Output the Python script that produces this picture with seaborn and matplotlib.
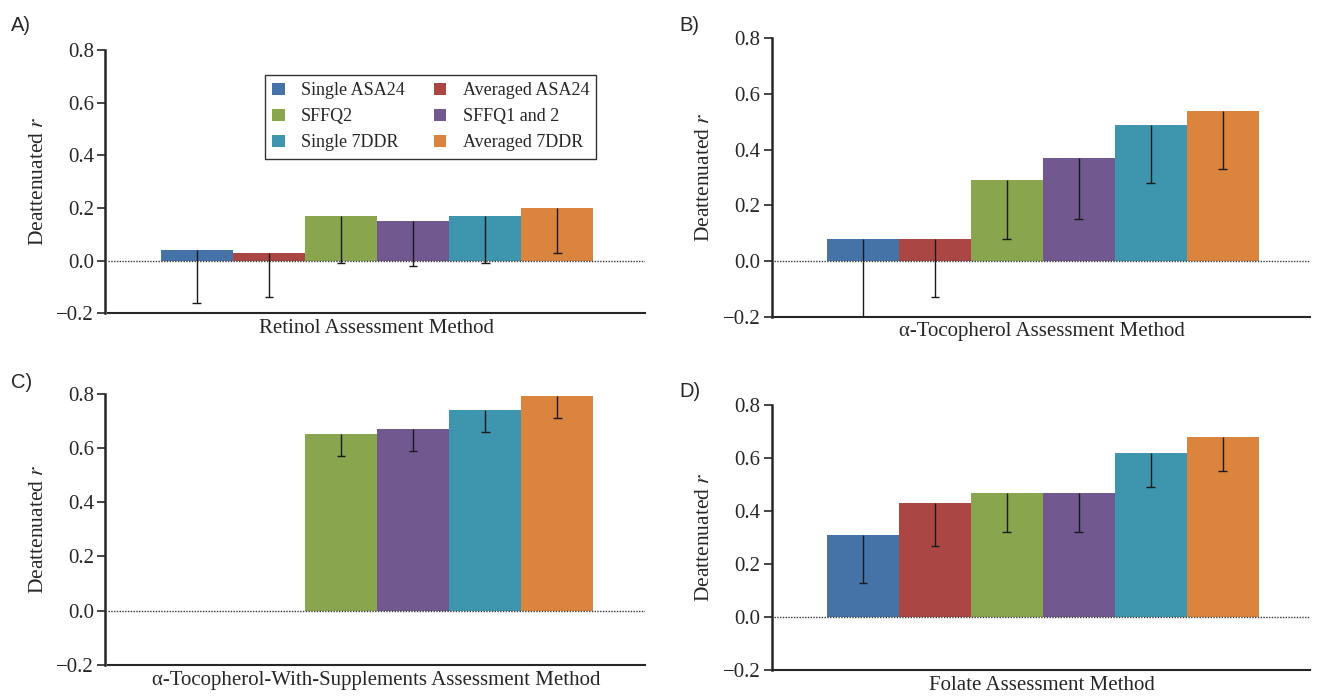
import pandas as pd
import matplotlib
matplotlib.use("Agg")
import matplotlib.pyplot as plt
import seaborn as sns
from matplotlib.patches import Patch

# assessment methods, in bar order
methods = ["Single ASA24", "Averaged ASA24", "SFFQ2", "SFFQ1 and 2", "Single 7DDR", "Averaged 7DDR"]
colors = ["#4572A7", "#AA4643", "#89A54E", "#71588F", "#3D96AE", "#DB843D"]

# deattenuated r and lower CI bound
retinol_r = [0.04, 0.03, 0.17, 0.15, 0.17, 0.20]
retinol_lo = [-0.16, -0.14, -0.01, -0.02, -0.01, 0.03]

toco_r = [0.08, 0.08, 0.29, 0.37, 0.49, 0.54]
toco_lo = [-0.20, -0.13, 0.08, 0.15, 0.28, 0.33]

tocosup_r = [None, None, 0.65, 0.67, 0.74, 0.79]
tocosup_lo = [None, None, 0.57, 0.59, 0.66, 0.71]

folate_r = [0.31, 0.43, 0.47, 0.47, 0.62, 0.68]
folate_lo = [0.13, 0.27, 0.32, 0.32, 0.49, 0.55]

panels = [
    ("A)", "Retinol Assessment Method", retinol_r, retinol_lo),
    ("B)", "\u03b1-Tocopherol Assessment Method", toco_r, toco_lo),
    ("C)", "\u03b1-Tocopherol-With-Supplements Assessment Method", tocosup_r, tocosup_lo),
    ("D)", "Folate Assessment Method", folate_r, folate_lo),
]

sns.set_style("ticks")
plt.rcParams["font.family"] = ["Liberation Serif", "DejaVu Serif"]
plt.rcParams["mathtext.fontset"] = "stix"

fig = plt.figure(figsize=(13.17, 6.96), dpi=100)

# axes boxes in figure fraction [left, bottom, width, height]
boxes = [
    [0.082, 0.550, 0.408, 0.378],
    [0.588, 0.545, 0.407, 0.400],
    [0.082, 0.0445, 0.408, 0.390],
    [0.588, 0.037, 0.407, 0.381],
]
label_pos = [(0.008, 0.955), (0.516, 0.955), (0.008, 0.443), (0.516, 0.430)]

for (tag, xlab, vals, lows), box, lp in zip(panels, boxes, label_pos):
    ax = fig.add_axes(box)
    df = pd.DataFrame({"method": methods, "r": vals, "lo": lows}).dropna()
    df["r"] = df["r"].astype(float)
    df["lo"] = df["lo"].astype(float)
    sns.barplot(data=df, x="method", y="r", hue="method", order=methods,
                hue_order=methods, palette=colors, dodge=False, width=1.0,
                saturation=1, errorbar=None, legend=False, linewidth=0, ax=ax)

    # one-sided (lower) error bars
    xs = [methods.index(m) for m in df["method"]]
    ax.vlines(xs, df["lo"], df["r"], color="#1a1a1a", lw=1.0, zorder=3)
    ax.hlines(df["lo"], [x - 0.06 for x in xs], [x + 0.06 for x in xs],
              color="#1a1a1a", lw=1.0, zorder=3)

    ax.axhline(0, color="#333333", lw=1.0, ls=(0, (1, 1)), zorder=4)
    ax.set_ylim(-0.2, 0.8)
    ax.set_xlim(-1.23, 6.22)
    ax.set_yticks([-0.2, 0.0, 0.2, 0.4, 0.6, 0.8])
    ax.set_yticklabels(["\u22120.2", "0.0", "0.2", "0.4", "0.6", "0.8"])
    ax.set_xticks([])
    ax.tick_params(axis="y", direction="out", length=6, width=1.2, labelsize=15, pad=2)
    sns.despine(ax=ax)
    ax.spines["left"].set_linewidth(1.8)
    ax.spines["bottom"].set_linewidth(1.5)
    ax.spines["left"].set_position(("outward", 2))
    ax.set_xlabel(xlab, fontsize=15, labelpad=4)
    ax.set_ylabel(r"Deattenuated $\mathit{r}$", fontsize=15.5, labelpad=6)

    fig.text(lp[0], lp[1], tag, fontsize=14.5, family="Liberation Sans")

    if tag == "A)":
        order = [0, 2, 4, 1, 3, 5]
        handles = [Patch(facecolor=colors[i], edgecolor="none") for i in order]
        leg = ax.legend(handles, [methods[i] for i in order], ncol=2,
                        loc="upper left", bbox_to_anchor=(0.292, 0.905),
                        fontsize=13, frameon=True, fancybox=False,
                        handlelength=0.7, handleheight=0.7, handletextpad=0.9,
                        columnspacing=1.6, borderpad=0.4, labelspacing=0.5,
                        borderaxespad=0)
        leg.get_frame().set_edgecolor("black")
        leg.get_frame().set_linewidth(1.0)

fig.savefig("out.png", dpi=100)
